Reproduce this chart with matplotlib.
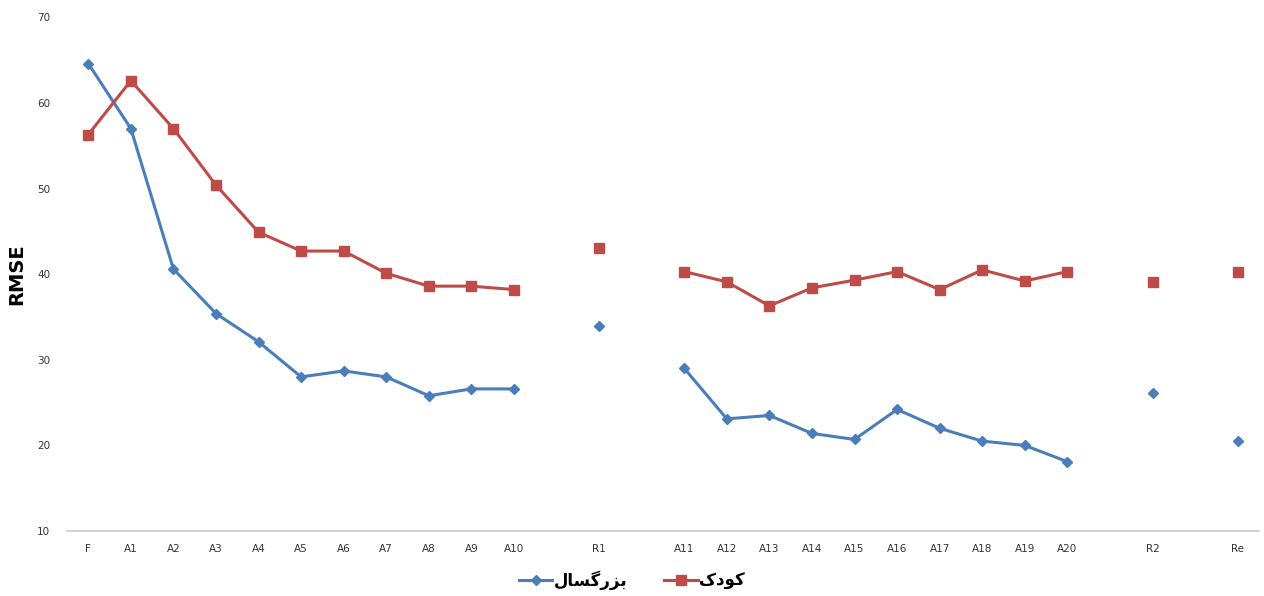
import numpy as np
import matplotlib
matplotlib.use("Agg")
import matplotlib.pyplot as plt

nan = np.nan

# category labels ("" = empty slot that breaks the lines)
labels = ["F", "A1", "A2", "A3", "A4", "A5", "A6", "A7", "A8", "A9", "A10",
          "", "R1", "",
          "A11", "A12", "A13", "A14", "A15", "A16", "A17", "A18", "A19", "A20",
          "", "R2", "", "Re"]

adult = [64.6, 57.0, 40.6, 35.4, 32.1, 28.0, 28.7, 28.0, 25.8, 26.6, 26.6,
         nan, 33.9, nan,
         29.0, 23.1, 23.5, 21.4, 20.7, 24.2, 22.0, 20.5, 20.0, 18.1,
         nan, 26.1, nan, 20.5]

child = [56.3, 62.6, 57.0, 50.4, 44.9, 42.7, 42.7, 40.1, 38.6, 38.6, 38.2,
         nan, 43.0, nan,
         40.3, 39.1, 36.3, 38.4, 39.3, 40.3, 38.2, 40.5, 39.2, 40.3,
         nan, 39.1, nan, 40.3]

# Persian labels, pre-shaped (presentation forms) and in visual order
adult_label = "\ufedd\ufe8e\ufeb4\ufb94\ufead\ufeb0\ufe91"   # بزرگسال
child_label = "\ufb8e\ufea9\ufeee\ufb90"                     # کودک

x = np.arange(len(labels))

fig = plt.figure(figsize=(12.64, 5.96), dpi=100)
ax = fig.add_axes([0.053, 0.109, 0.943, 0.862])

ax.plot(x, adult, color="#4A7EBB", lw=2.2, marker="D", ms=5.5, label=adult_label)
ax.plot(x, child, color="#BE4B48", lw=2.2, marker="s", ms=7.5, label=child_label)

ax.set_xlim(-0.5, len(labels) - 0.5)
ax.set_ylim(10, 70)
ax.set_yticks(range(10, 71, 10))
ax.set_xticks(x)
ax.set_xticklabels(labels)
ax.tick_params(length=0, labelsize=7.5, colors="#333333")
ax.tick_params(axis="y", pad=12)
ax.tick_params(axis="x", pad=9)

for s in ["top", "right", "left"]:
    ax.spines[s].set_visible(False)
ax.spines["bottom"].set_color("#c8c8c8")
ax.spines["bottom"].set_linewidth(1.2)

ax.set_ylabel("RMSE", fontsize=14, fontweight="bold", labelpad=8)

fig.legend(loc="center", bbox_to_anchor=(632 / 1264, 1 - 580 / 596), ncol=2,
           frameon=False, handlelength=2.0, handletextpad=0.1,
           columnspacing=2.2,
           prop={"family": ["DejaVu Sans"], "weight": "bold", "size": 12})

fig.savefig("out.png", dpi=100)
